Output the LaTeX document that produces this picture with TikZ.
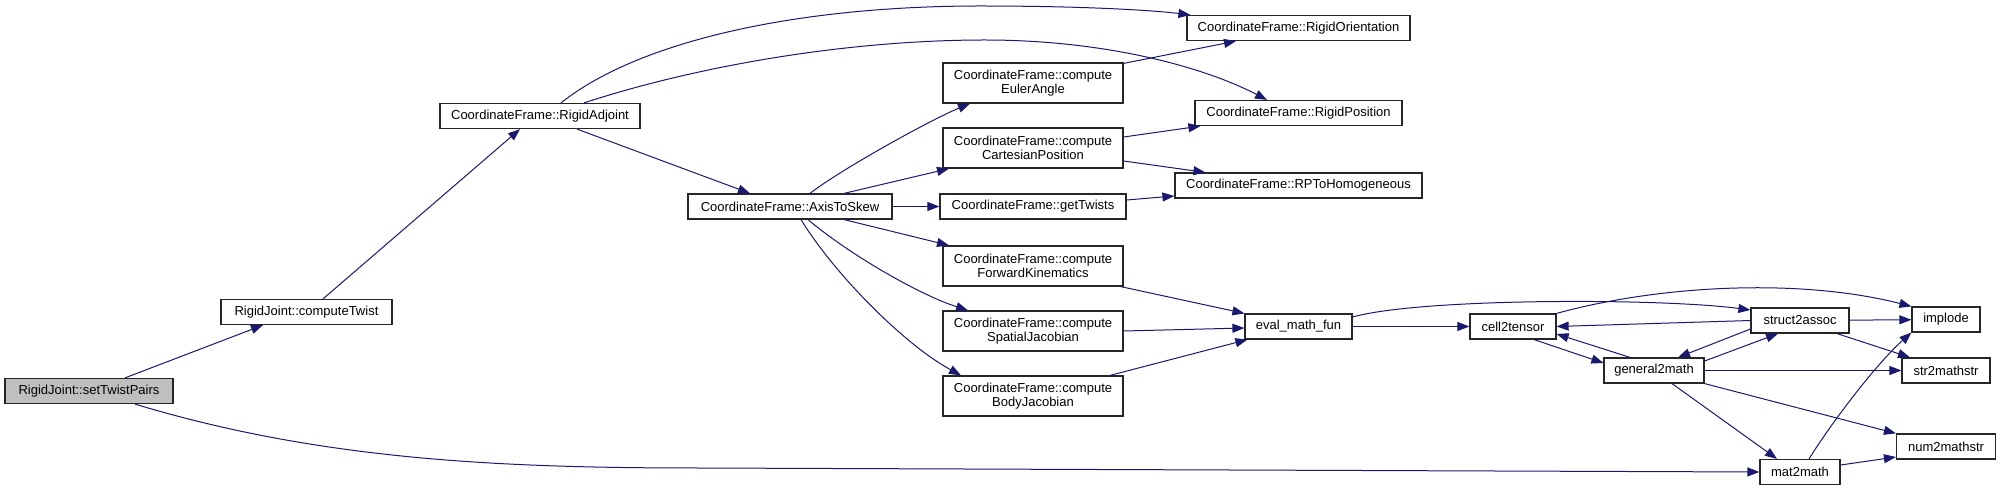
\documentclass[tikz,border=0pt]{standalone}
\usepackage{fontspec}
\setmainfont{Liberation Sans}
\usetikzlibrary{arrows.meta}
\definecolor{callblue}{HTML}{191970}
\definecolor{rootgray}{HTML}{BFBFBF}

\begin{document}
\begin{tikzpicture}[x=0.5pt, y=-0.5pt,
    fn/.style={draw=black!85, line width=0.6pt, fill=white, inner sep=1pt,
        minimum height=12.5pt, font=\fontsize{6.5}{7}\selectfont, align=center},
    fn2/.style={fn, minimum height=20pt},
    call/.style={-{Triangle[length=6pt, width=4.5pt]}, callblue, line width=0.5pt}]
    \path[fill=white, use as bounding box] (0,0) rectangle (2001,491);

    % Root and first callers
    \node[fn, fill=rootgray, minimum width=84pt] (setpairs) at (89,391) {RigidJoint::setTwistPairs};
    \node[fn, minimum width=85.5pt] (twist) at (306.5,312) {RigidJoint::computeTwist};
    \node[fn, minimum width=100pt] (adjoint) at (540,116) {CoordinateFrame::RigidAdjoint};
    \node[fn, minimum width=102pt] (axis) at (790,206.5) {CoordinateFrame::AxisToSkew};

    % Middle column
    \node[fn2, minimum width=90pt] (euler) at (1033,83) {CoordinateFrame::compute\\EulerAngle};
    \node[fn2, minimum width=90pt] (cart) at (1033,148) {CoordinateFrame::compute\\CartesianPosition};
    \node[fn, minimum width=93pt] (gettw) at (1033,206.5) {CoordinateFrame::getTwists};
    \node[fn2, minimum width=90pt] (fwd) at (1033,266) {CoordinateFrame::compute\\ForwardKinematics};
    \node[fn2, minimum width=90pt] (spatial) at (1033,331) {CoordinateFrame::compute\\SpatialJacobian};
    \node[fn2, minimum width=90pt] (body) at (1033,396) {CoordinateFrame::compute\\BodyJacobian};

    % Rigid helpers
    \node[fn, minimum width=111.5pt] (orient) at (1298.5,28) {CoordinateFrame::RigidOrientation};
    \node[fn, minimum width=103.5pt] (rpos) at (1298.5,113) {CoordinateFrame::RigidPosition};
    \node[fn, minimum width=123.5pt] (rptoh) at (1298.5,185.5) {CoordinateFrame::RPToHomogeneous};
    \node[fn, minimum width=53.5pt] (evalfun) at (1298.5,326.5) {eval\_math\_fun};

    % Math conversion
    \node[fn, minimum width=43pt] (cell) at (1513,326.5) {cell2tensor};
    \node[fn, minimum width=50pt] (gen) at (1654,370.5) {general2math};
    \node[fn, minimum width=49pt] (struct) at (1800,320.5) {struct2assoc};
    \node[fn, minimum width=40pt] (mat) at (1800,472) {mat2math};
    \node[fn, minimum width=34pt] (implode) at (1946,319.5) {implode};
    \node[fn, minimum width=44pt] (strm) at (1946,370.5) {str2mathstr};
    \node[fn, minimum width=49.5pt] (numm) at (1946,446.5) {num2mathstr};

    % Calls from the root
    \draw[call] ([xshift=18pt]setpairs.north) -- ([xshift=-21.75pt]twist.south);
    \draw[call] ([xshift=23pt]setpairs.south) .. controls (320,460) and (500,468) .. (700,468) -- (mat.west);
    \draw[call] ([xshift=8.25pt]twist.north) -- ([xshift=-10pt]adjoint.south);
    \draw[call] ([xshift=10.5pt]adjoint.north) .. controls (640,40) and (800,6) .. (980,6)
        .. controls (1080,6) and (1150,10) .. ([xshift=2pt]orient.north west);
    \draw[call] ([xshift=22pt]adjoint.north) .. controls (700,65) and (850,40) .. (985,40)
        .. controls (1100,40) and (1200,65) .. ([xshift=-15.75pt]rpos.north);
    \draw[call] ([xshift=18.5pt]adjoint.south) -- ([xshift=-20pt]axis.north);

    % Calls from AxisToSkew
    \draw[call] ([xshift=10pt]axis.north) .. controls (840,170) and (930,120) .. ([xshift=-31.5pt]euler.south);
    \draw[call] ([xshift=27pt]axis.north) -- ([xshift=-42pt]cart.south);
    \draw[call] (axis) -- (gettw);
    \draw[call] ([xshift=27pt]axis.south) -- ([xshift=-42pt]fwd.north);
    \draw[call] ([xshift=9pt]axis.south) .. controls (850,255) and (920,295) .. ([xshift=-32.5pt]spatial.north);
    \draw[call] ([xshift=5.5pt]axis.south) .. controls (835,275) and (905,345) .. ([xshift=-36pt]body.north);

    % Middle column to helpers
    \draw[call] ([yshift=-0.5pt]euler.north east) -- ([xshift=-31.25pt]orient.south);
    \draw[call] ([yshift=5.5pt]cart.east) -- ([xshift=3pt]rpos.south west);
    \draw[call] ([yshift=-6.5pt]cart.east) -- ([xshift=15.5pt]rptoh.north west);
    \draw[call] ([yshift=3.25pt]gettw.east) -- ([yshift=-5.25pt]rptoh.west);
    \draw[call] ([xshift=-1.5pt]fwd.south east) -- (evalfun.north west);
    \draw[call] (spatial.east) -- ([yshift=-0.75pt]evalfun.west);
    \draw[call] ([xshift=38.5pt]body.north) -- ([xshift=1.5pt]evalfun.south west);

    % Math conversion calls
    \draw[call] (evalfun) -- (cell);
    \draw[call] ([yshift=4.75pt]evalfun.east) .. controls (1420,298) and (1660,298) .. ([yshift=5.25pt]struct.west);
    \draw[call] (cell.north east) .. controls (1660,285) and (1800,278) .. (implode.north west);
    \draw[call] ([xshift=10.5pt]cell.south) -- ([yshift=3.75pt]gen.west);
    \draw[call] ([xshift=-12pt]gen.north) -- ([yshift=-3.75pt]cell.east);
    \draw[call] (struct.west) -- (cell.east);
    \draw[call] (struct) -- (implode);
    \draw[call] ([xshift=18.5pt]struct.south) -- ([xshift=-18pt]strm.north);
    \draw[call] ([yshift=-4.25pt]struct.west) -- ([xshift=12pt]gen.north);
    \draw[call] ([yshift=4.75pt]gen.east) -- ([xshift=-11pt]struct.south);
    \draw[call] (gen) -- (strm);
    \draw[call] (gen.south east) -- (numm.north west);
    \draw[call] ([xshift=9pt]gen.south) -- ([xshift=-11.5pt]mat.north);
    \draw[call] ([xshift=4.5pt]mat.north) .. controls (1830,425) and (1875,365) .. (implode.south west);
    \draw[call] ([yshift=3.5pt]mat.east) -- ([yshift=-5.25pt]numm.west);
\end{tikzpicture}
\end{document}
